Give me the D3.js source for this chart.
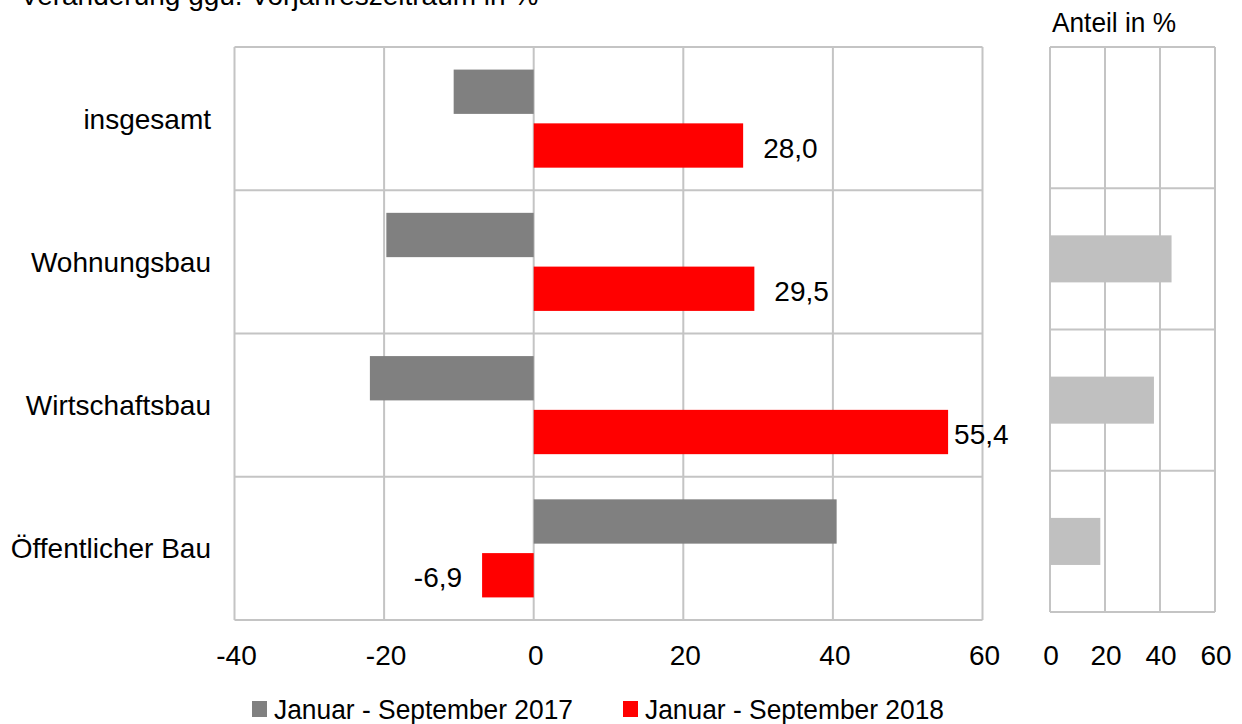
<!DOCTYPE html>
<html>
<head>
<meta charset="utf-8">
<script src="https://cdn.jsdelivr.net/npm/d3@7"></script>
<style>
  body { margin: 0; background: #fff; }
  text { font-family: "Liberation Sans", Arial, sans-serif; fill: #000; }
</style>
</head>
<body>
<div id="viz"></div>
<script>
// data
const categories = ["insgesamt", "Wohnungsbau", "Wirtschaftsbau", "Öffentlicher Bau"]
const series = ["Januar - September 2017", "Januar - September 2018"]
const values2017 = [-10.7, -19.7, -21.9, 40.5]
const values2018 = [28.0, 29.5, 55.4, -6.9]
const share = [null, 44.2, 37.8, 18.3]
const ticksLeft = [-40, -20, 0, 20, 40, 60]
const ticksRight = [0, 20, 40, 60]
const colors = ["#808080", "#ff0000"]

const width = 1242
const height = 724
const fmt = v => d3.format(".1f")(v).replace(".", ",").replace("\u2212", "-")

const svg = d3.select("#viz").append("svg")
    .attr("width", width)
    .attr("height", height)

// title (cut at the top edge like in the original)
svg.append("text")
    .attr("x", 20)
    .attr("y", 5)
    .attr("font-size", 28)
    .text("Veränderung ggü. Vorjahreszeitraum in %")

// ========================================
// left panel
const x = d3.scaleLinear().domain([-40, 60]).range([234.5, 982.5])
const y = d3.scaleBand().domain(categories).range([47, 620])
const ySub = d3.scaleBand().domain(series).range([0, y.bandwidth()])
    .paddingInner(0.176).paddingOuter(0.42)

const gridColor = "#c4c4c4"
const left = svg.append("g")

left.selectAll(".vgrid").data(ticksLeft).join("line")
    .attr("x1", d => x(d)).attr("x2", d => x(d))
    .attr("y1", y.range()[0]).attr("y2", y.range()[1])
    .attr("stroke", gridColor).attr("stroke-width", 2)

const rowEdges = categories.map(c => y(c)).concat([y.range()[1]])
left.selectAll(".hgrid").data(rowEdges).join("line")
    .attr("x1", x.range()[0]).attr("x2", x.range()[1])
    .attr("y1", d => d).attr("y2", d => d)
    .attr("stroke", gridColor).attr("stroke-width", 2)

const rows = categories.map((c, i) => ({ cat: c, vals: [values2017[i], values2018[i]] }))

rows.forEach(r => {
    r.vals.forEach((v, j) => {
        left.append("rect")
            .attr("x", x(Math.min(0, v)))
            .attr("y", y(r.cat) + ySub(series[j]))
            .attr("width", Math.abs(x(v) - x(0)))
            .attr("height", ySub.bandwidth())
            .attr("fill", colors[j])
    })
    // value labels only for 2018
    const v = r.vals[1]
    const gap = v > 50 ? 6 : 20
    left.append("text")
        .attr("x", v >= 0 ? x(v) + gap : x(v) - gap)
        .attr("y", y(r.cat) + ySub(series[1]) + ySub.bandwidth() / 2 + 12)
        .attr("text-anchor", v >= 0 ? "start" : "end")
        .attr("font-size", 28)
        .text(fmt(v))
})

// category labels
svg.selectAll(".cat").data(categories).join("text")
    .attr("x", 211)
    .attr("y", d => y(d) + y.bandwidth() / 2 + 10)
    .attr("text-anchor", "end")
    .attr("font-size", 28)
    .text(d => d)

// tick labels
svg.selectAll(".tickL").data(ticksLeft).join("text")
    .attr("x", d => x(d) + 2)
    .attr("y", 665)
    .attr("text-anchor", "middle")
    .attr("font-size", 28)
    .text(d => d)

// ========================================
// right panel
const x2 = d3.scaleLinear().domain([0, 60]).range([1050, 1215])
const y2 = d3.scaleBand().domain(categories).range([47, 612])
    .paddingInner(0.667).paddingOuter(0.333)
const y2rows = d3.scaleBand().domain(categories).range([47, 612])

const right = svg.append("g")
right.selectAll(".vgrid").data(ticksRight).join("line")
    .attr("x1", d => x2(d)).attr("x2", d => x2(d))
    .attr("y1", y2rows.range()[0]).attr("y2", y2rows.range()[1])
    .attr("stroke", gridColor).attr("stroke-width", 2)

const rowEdges2 = categories.map(c => y2rows(c)).concat([y2rows.range()[1]])
right.selectAll(".hgrid").data(rowEdges2).join("line")
    .attr("x1", x2.range()[0]).attr("x2", x2.range()[1])
    .attr("y1", d => d).attr("y2", d => d)
    .attr("stroke", gridColor).attr("stroke-width", 2)

right.selectAll(".bar").data(categories.map((c, i) => ({ c, v: share[i] })).filter(d => d.v != null))
    .join("rect")
    .attr("x", x2(0))
    .attr("y", d => y2(d.c))
    .attr("width", d => x2(d.v) - x2(0))
    .attr("height", y2.bandwidth())
    .attr("fill", "#c0c0c0")

svg.selectAll(".tickR").data(ticksRight).join("text")
    .attr("x", d => x2(d) + 1)
    .attr("y", 665)
    .attr("text-anchor", "middle")
    .attr("font-size", 28)
    .text(d => d)

svg.append("text")
    .attr("x", 1052)
    .attr("y", 32)
    .attr("font-size", 28)
    .attr("textLength", 124)
    .attr("lengthAdjust", "spacingAndGlyphs")
    .text("Anteil in %")

// ========================================
// legend
const legendX = [252, 623]
series.forEach((s, i) => {
    svg.append("rect")
        .attr("x", legendX[i]).attr("y", 701)
        .attr("width", 15).attr("height", 16)
        .attr("fill", colors[i])
    svg.append("text")
        .attr("x", legendX[i] + 22)
        .attr("y", 719)
        .attr("font-size", 27)
        .attr("textLength", 299)
        .attr("lengthAdjust", "spacingAndGlyphs")
        .text(s)
})
</script>
</body>
</html>
